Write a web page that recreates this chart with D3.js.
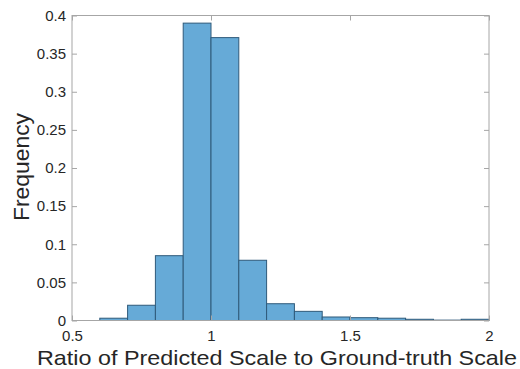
<!DOCTYPE html>
<html><head><meta charset="utf-8">
<script src="https://cdn.jsdelivr.net/npm/d3@7"></script>
<style>body{margin:0;background:#fff}svg{display:block}text{font-family:"Liberation Sans",Arial,sans-serif;fill:#262626}</style>
</head><body><svg id="c" width="520" height="369"></svg>
<script>
const binEdges = [0.6,0.7,0.8,0.9,1.0,1.1,1.2,1.3,1.4,1.5,1.6,1.7,1.8,1.9,2.0];
const frequencies = [0.003,0.020,0.085,0.390,0.371,0.079,0.022,0.012,0.0046,0.0037,0.003,0.0016,0.0005,0.0016];
const xTicks = [0.5,1,1.5,2];
const yTicks = [0,0.05,0.1,0.15,0.2,0.25,0.3,0.35,0.4];
const xLabel = "Ratio of Predicted Scale to Ground-truth Scale";
const yLabel = "Frequency";

const svg = d3.select("#c");
const m = {l:72, r:489, t:15.5, b:320.5};
const x = d3.scaleLinear().domain([0.5,2]).range([m.l,m.r]);
const y = d3.scaleLinear().domain([0,0.4]).range([m.b,m.t]);

const bins = frequencies.map((v,i)=>({x0:binEdges[i],x1:binEdges[i+1],v}));
svg.append("g").selectAll("rect").data(bins).join("rect")
  .attr("x",d=>x(d.x0)).attr("width",d=>x(d.x1)-x(d.x0))
  .attr("y",d=>y(d.v)).attr("height",d=>y(0)-y(d.v))
  .attr("fill","#66aad7").attr("stroke","#2f5a7a").attr("stroke-width",1);

svg.append("rect").attr("x",m.l).attr("y",m.t).attr("width",m.r-m.l).attr("height",m.b-m.t)
  .attr("fill","none").attr("stroke","#a6a6a6").attr("stroke-width",1);

svg.append("g").attr("transform",`translate(0,${m.b})`)
  .call(d3.axisBottom(x).tickValues(xTicks).tickSize(-5).tickFormat(d3.format("")).tickPadding(10));
svg.append("g").attr("transform",`translate(${m.l},0)`)
  .call(d3.axisLeft(y).tickValues(yTicks).tickSize(-5).tickFormat(d3.format("")).tickPadding(6));
svg.append("g").attr("transform",`translate(0,${m.t})`)
  .call(d3.axisTop(x).tickValues(xTicks).tickSize(-5).tickFormat(""));
svg.append("g").attr("transform",`translate(${m.r},0)`)
  .call(d3.axisRight(y).tickValues(yTicks).tickSize(-5).tickFormat(""));
svg.selectAll(".domain").remove();
svg.selectAll(".tick line").attr("stroke","#a6a6a6");
svg.selectAll(".tick text").attr("font-size",15).attr("fill","#262626");

svg.append("text").attr("x",277).attr("y",365).attr("text-anchor","middle")
  .attr("font-size",21).attr("textLength",480).attr("lengthAdjust","spacingAndGlyphs").text(xLabel);
svg.append("text").attr("transform",`translate(28.5,167) rotate(-90)`).attr("text-anchor","middle")
  .attr("font-size",21.5).attr("textLength",108).attr("lengthAdjust","spacingAndGlyphs").text(yLabel);
</script></body></html>
